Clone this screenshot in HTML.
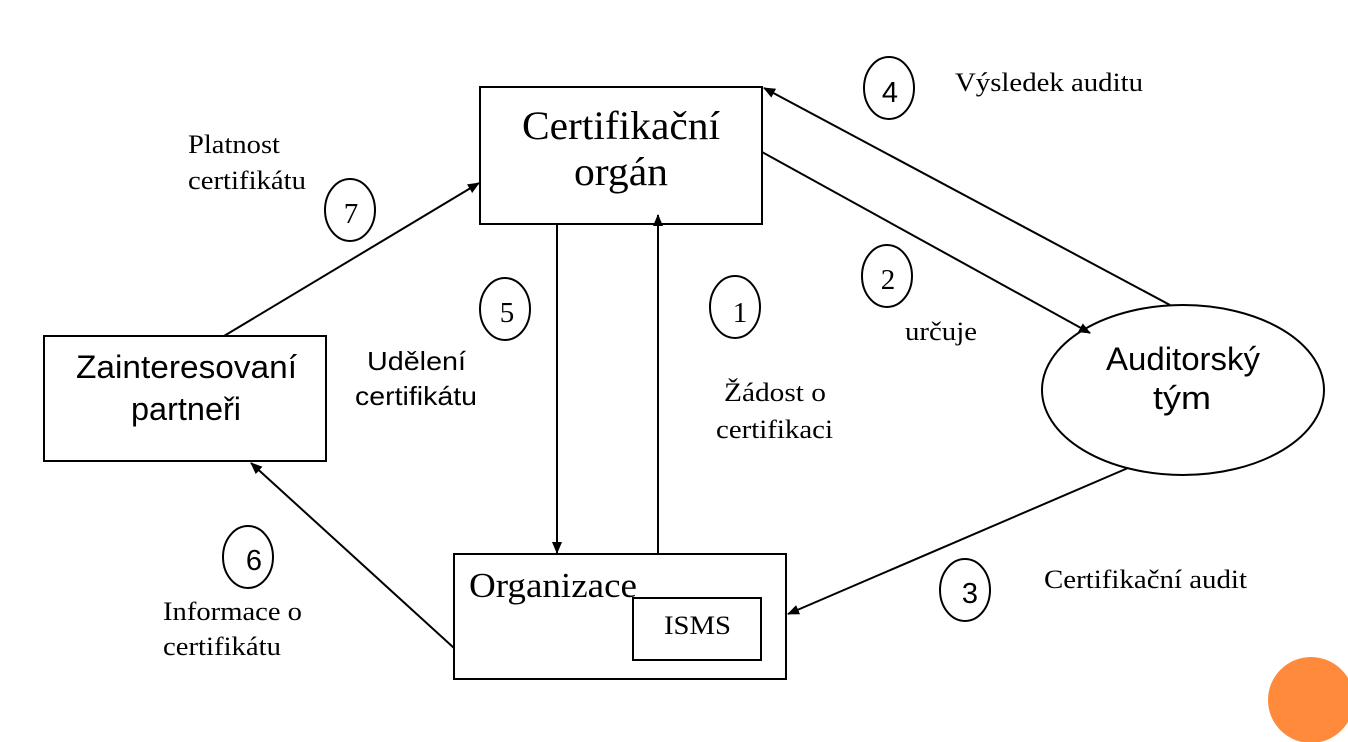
<!DOCTYPE html>
<html><head><meta charset="utf-8"><style>
html,body{margin:0;padding:0;background:#fff;}
svg{display:block}
.s{font-family:"Liberation Serif",serif;}
.a{font-family:"Liberation Sans",sans-serif;}
</style></head><body>
<svg width="1348" height="742" viewBox="0 0 1348 742" xmlns="http://www.w3.org/2000/svg">
<defs><marker id="ar" markerWidth="12" markerHeight="10" refX="11" refY="5" orient="auto" markerUnits="userSpaceOnUse"><path d="M0,0 L12,5 L0,10 z" fill="#000"/></marker></defs>
<g fill="none" stroke="#000" stroke-width="2">
<rect x="480" y="87" width="282" height="137"/>
<rect x="44" y="336" width="282" height="125"/>
<rect x="454" y="554" width="332" height="125"/>
<rect x="633" y="598" width="128" height="62"/>
<ellipse cx="1183" cy="390" rx="141" ry="85"/>
<ellipse cx="889" cy="88" rx="25" ry="31"/>
<ellipse cx="350" cy="210" rx="25" ry="31"/>
<ellipse cx="887" cy="276" rx="25" ry="31"/>
<ellipse cx="505" cy="309" rx="25" ry="31"/>
<ellipse cx="735" cy="307" rx="25" ry="31"/>
<ellipse cx="248" cy="557" rx="25" ry="31"/>
<ellipse cx="965" cy="590" rx="25" ry="31"/>
<line x1="1170" y1="305" x2="764" y2="88" marker-end="url(#ar)"/>
<line x1="762" y1="152" x2="1090" y2="333" marker-end="url(#ar)"/>
<line x1="224" y1="336" x2="479" y2="183" marker-end="url(#ar)"/>
<line x1="557" y1="224" x2="557" y2="553" marker-end="url(#ar)"/>
<line x1="658" y1="554" x2="658" y2="215" marker-end="url(#ar)"/>
<line x1="1128" y1="468" x2="788" y2="614" marker-end="url(#ar)"/>
<line x1="454" y1="648" x2="251" y2="463" marker-end="url(#ar)"/>
</g>
<circle cx="1311" cy="700" r="43" fill="#FF8A3B"/>
<g class="s" font-size="40" lengthAdjust="spacingAndGlyphs">
<text x="522" y="139" textLength="198" lengthAdjust="spacingAndGlyphs">Certifikační</text>
<text x="574" y="185" textLength="94" lengthAdjust="spacingAndGlyphs">orgán</text>
</g>
<g class="a" font-size="32">
<text x="76" y="378" textLength="221" lengthAdjust="spacingAndGlyphs">Zainteresovaní</text>
<text x="131" y="420" textLength="110" lengthAdjust="spacingAndGlyphs">partneři</text>
<text x="1106" y="370" textLength="154" lengthAdjust="spacingAndGlyphs">Auditorský</text>
<text x="1153" y="409" textLength="58" lengthAdjust="spacingAndGlyphs">tým</text>
</g>
<text class="s" x="469" y="597" font-size="35" textLength="168" lengthAdjust="spacingAndGlyphs">Organizace</text>
<text class="s" x="664" y="634" font-size="26" textLength="67" lengthAdjust="spacingAndGlyphs">ISMS</text>
<g class="s" font-size="26">
<text x="955" y="91" textLength="188" lengthAdjust="spacingAndGlyphs">Výsledek auditu</text>
<text x="188" y="153" textLength="92" lengthAdjust="spacingAndGlyphs">Platnost</text>
<text x="188" y="189" textLength="118" lengthAdjust="spacingAndGlyphs">certifikátu</text>
<text x="905" y="340" textLength="72" lengthAdjust="spacingAndGlyphs">určuje</text>
<text x="724" y="401" textLength="102" lengthAdjust="spacingAndGlyphs">Žádost o</text>
<text x="716" y="438" textLength="117" lengthAdjust="spacingAndGlyphs">certifikaci</text>
<text x="163" y="620" textLength="139" lengthAdjust="spacingAndGlyphs">Informace o</text>
<text x="163" y="655" textLength="118" lengthAdjust="spacingAndGlyphs">certifikátu</text>
<text x="1044" y="588" textLength="203" lengthAdjust="spacingAndGlyphs">Certifikační audit</text>
</g>
<g class="a" font-size="26">
<text x="367" y="370" textLength="99" lengthAdjust="spacingAndGlyphs">Udělení</text>
<text x="355" y="405" textLength="122" lengthAdjust="spacingAndGlyphs">certifikátu</text>
</g>
<g font-size="29" text-anchor="middle">
<text class="a" x="890" y="102">4</text>
<text class="s" x="351" y="223">7</text>
<text class="s" x="888" y="289">2</text>
<text class="s" x="507" y="322">5</text>
<text class="s" x="740" y="322">1</text>
<text class="a" x="254" y="570">6</text>
<text class="a" x="970" y="603">3</text>
</g>
</svg>
</body></html>
